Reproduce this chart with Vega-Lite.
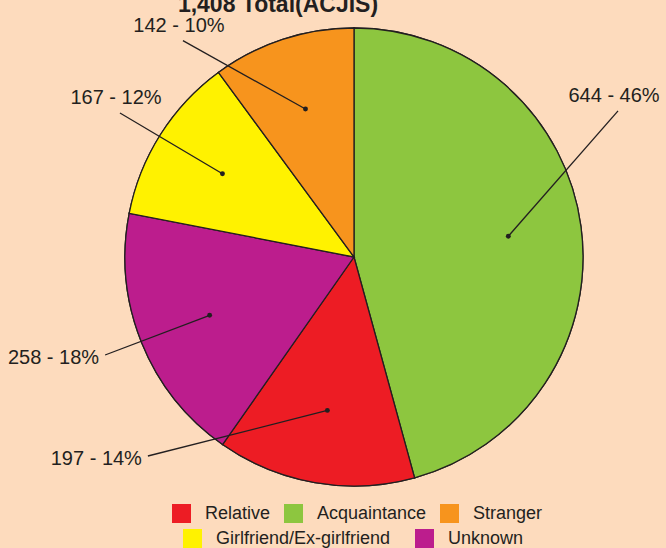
{
  "$schema": "https://vega.github.io/schema/vega-lite/v6.json",
  "width": 708,
  "height": 514,
  "autosize": {"type": "none"},
  "padding": {"left": 0, "top": 0, "right": 0, "bottom": 34},
  "background": "#FDDBBD",
  "config": {"view": {"stroke": null}},
  "title": {
    "text": "1,408 Total(ACJIS)",
    "font": "Liberation Sans",
    "fontWeight": "bold",
    "fontSize": 23,
    "color": "#231f20",
    "offset": -17,
    "anchor": "middle",
    "frame": "group",
    "dx": -76
  },
  "datasets": {
    "slices": [
      {"category": "Acquaintance", "count": 644, "share": 46},
      {"category": "Relative", "count": 197, "share": 14},
      {"category": "Unknown", "count": 258, "share": 18},
      {"category": "Girlfriend/Ex-girlfriend", "count": 167, "share": 12},
      {"category": "Stranger", "count": 142, "share": 10}
    ],
    "callouts": [
      {"category": "Acquaintance", "endX": 1.153, "endY": 0.638},
      {"category": "Relative", "endX": -0.9, "endY": -0.869},
      {"category": "Unknown", "endX": -1.087, "endY": -0.428},
      {"category": "Girlfriend/Ex-girlfriend", "endX": -1.022, "endY": 0.629},
      {"category": "Stranger", "endX": -0.747, "endY": 0.945}
    ]
  },
  "data": {"name": "slices"},
  "transform": [
    {"window": [{"op": "row_number", "as": "idx"}]},
    {"window": [{"op": "sum", "field": "count", "as": "cum"}], "sort": [{"field": "idx"}], "frame": [null, 0]},
    {"joinaggregate": [{"op": "sum", "field": "count", "as": "total"}]},
    {"calculate": "2*PI*(datum.cum - datum.count/2)/datum.total", "as": "mid"},
    {"calculate": "0.68*sin(datum.mid)", "as": "dotX"},
    {"calculate": "0.68*cos(datum.mid)", "as": "dotY"},
    {"calculate": "datum.count + ' - ' + datum.share + '%'", "as": "label"},
    {"lookup": "category", "from": {"data": {"name": "callouts"}, "key": "category", "fields": ["endX", "endY"]}}
  ],
  "resolve": {"scale": {"fill": "independent"}, "legend": {"fill": "independent"}},
  "layer": [
    {
      "mark": {"type": "arc", "outerRadius": 229, "stroke": "#231f20", "strokeWidth": 1.3},
      "encoding": {
        "theta": {"field": "count", "type": "quantitative", "stack": true},
        "order": {"field": "idx", "type": "quantitative"},
        "fill": {
          "field": "category",
          "type": "nominal",
          "scale": {
            "domain": ["Relative", "Acquaintance", "Stranger", "Girlfriend/Ex-girlfriend", "Unknown"],
            "range": ["#ED1C24", "#8DC63F", "#F7941D", "#FFF200", "#BC1D8D"]
          },
          "legend": {
            "values": ["Girlfriend/Ex-girlfriend", "Unknown"],
            "orient": "none",
            "legendX": 183,
            "legendY": 529,
            "direction": "horizontal",
            "title": null,
            "symbolType": "square",
            "symbolSize": 361,
            "symbolStrokeWidth": 0,
            "symbolOpacity": 1,
            "labelFont": "Liberation Sans",
            "labelFontSize": 18,
            "labelColor": "#231f20",
            "labelOffset": 14,
            "columnPadding": 24,
            "labelLimit": 300
          }
        }
      }
    },
    {
      "mark": {"type": "arc", "outerRadius": 229, "stroke": "#231f20", "strokeWidth": 1.3},
      "encoding": {
        "theta": {"field": "count", "type": "quantitative", "stack": true},
        "order": {"field": "idx", "type": "quantitative"},
        "fill": {
          "field": "category",
          "type": "nominal",
          "scale": {
            "domain": ["Relative", "Acquaintance", "Stranger", "Girlfriend/Ex-girlfriend", "Unknown"],
            "range": ["#ED1C24", "#8DC63F", "#F7941D", "#FFF200", "#BC1D8D"]
          },
          "legend": {
            "values": ["Relative", "Acquaintance", "Stranger"],
            "orient": "none",
            "legendX": 172,
            "legendY": 504,
            "direction": "horizontal",
            "title": null,
            "symbolType": "square",
            "symbolSize": 361,
            "symbolStrokeWidth": 0,
            "symbolOpacity": 1,
            "labelFont": "Liberation Sans",
            "labelFontSize": 18,
            "labelColor": "#231f20",
            "labelOffset": 14,
            "columnPadding": 13,
            "labelLimit": 300
          }
        }
      }
    },
    {
      "mark": {"type": "rule", "stroke": "#231f20", "strokeWidth": 1.3},
      "encoding": {
        "x": {"field": "dotX", "type": "quantitative", "scale": {"domain": [-1.5459, 1.5459], "nice": false, "zero": false}, "axis": null},
        "y": {"field": "dotY", "type": "quantitative", "scale": {"domain": [-1.1223, 1.1223], "nice": false, "zero": false}, "axis": null},
        "x2": {"field": "endX"},
        "y2": {"field": "endY"}
      }
    },
    {
      "mark": {"type": "point", "filled": true, "size": 24, "color": "#231f20", "opacity": 1},
      "encoding": {
        "x": {"field": "dotX", "type": "quantitative", "scale": {"domain": [-1.5459, 1.5459], "nice": false, "zero": false}, "axis": null},
        "y": {"field": "dotY", "type": "quantitative", "scale": {"domain": [-1.1223, 1.1223], "nice": false, "zero": false}, "axis": null}
      }
    },
    {
      "transform": [{"filter": "datum.endY >= 0"}],
      "mark": {"type": "text", "align": "center", "baseline": "alphabetic", "dx": -4, "dy": -9, "font": "Liberation Sans", "fontSize": 20, "color": "#231f20"},
      "encoding": {
        "x": {"field": "endX", "type": "quantitative", "scale": {"domain": [-1.5459, 1.5459], "nice": false, "zero": false}, "axis": null},
        "y": {"field": "endY", "type": "quantitative", "scale": {"domain": [-1.1223, 1.1223], "nice": false, "zero": false}, "axis": null},
        "text": {"field": "label"}
      }
    },
    {
      "transform": [{"filter": "datum.endY < 0"}],
      "mark": {"type": "text", "align": "right", "baseline": "middle", "dx": -6, "dy": 3, "font": "Liberation Sans", "fontSize": 20, "color": "#231f20"},
      "encoding": {
        "x": {"field": "endX", "type": "quantitative", "scale": {"domain": [-1.5459, 1.5459], "nice": false, "zero": false}, "axis": null},
        "y": {"field": "endY", "type": "quantitative", "scale": {"domain": [-1.1223, 1.1223], "nice": false, "zero": false}, "axis": null},
        "text": {"field": "label"}
      }
    }
  ]
}
